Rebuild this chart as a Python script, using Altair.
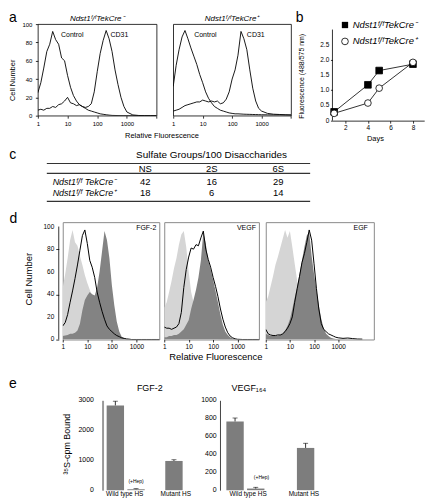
import altair as alt
import pandas as pd

FONT = "Liberation Sans"
BLACK = "black"
LIGHT = "#d5d5d5"
DARK = "#838383"
BAR = "#7d7d7d"

# ---------------------------------------------------------------- data
# histogram channels (relative fluorescence) shared by the flow panels
FL = [1, 1.26, 1.58, 2.0, 2.51, 3.16, 3.98, 5.01, 6.31, 7.94,
      10, 12.6, 15.8, 20.0, 25.1, 31.6, 39.8, 50.1, 63.1, 79.4,
      100, 126, 158, 200, 251, 316, 398, 501, 631, 794,
      1000, 1585, 2512, 3981, 6310, 10000]

# panel a : cell number per channel
A_TITLES = ["Ndst1ᶠ/ᶠTekCre⁻", "Ndst1ᶠ/ᶠTekCre⁺"]
A_NOTES = ["Control", "CD31"]
A_NEG_CONTROL = [25, 36, 52, 70, 78, 92, 83, 78, 63, 60,
                 44, 31, 22, 16, 12, 10, 8, 6, 5, 4,
                 3, 2, 1.5, 1, 0.6, 0.3, 0.2, 0.1, 0, 0,
                 0, 0, 0, 0, 0, 0]
A_NEG_CD31 = [6, 7, 6, 8, 8, 10, 9, 12, 13, 16,
              20, 14, 13, 11, 12, 10, 9, 10, 13, 26,
              48, 68, 82, 93, 84, 70, 50, 34, 20, 10,
              4, 0.8, 0.2, 0, 0, 0]
A_POS_CONTROL = [32, 55, 72, 86, 93, 84, 74, 65, 56, 45,
                 36, 26, 19, 14, 10, 8, 6, 5, 4, 3,
                 2.5, 2, 2, 1.8, 1.6, 1.5, 1.4, 1.3, 1.2, 1.1,
                 1, 0.9, 0.8, 0.8, 0.7, 0.6]
A_POS_CD31 = [5, 6, 7, 9, 11, 12, 13, 14, 15, 15,
              17, 16, 15, 16, 15, 16, 13, 14, 18, 26,
              40, 50, 66, 92, 84, 72, 50, 30, 16, 8,
              5, 2.5, 1.6, 1.3, 1, 0.8]

# panel b
B_SERIES = ["Ndst1ᶠ/ᶠTekCre⁻", "Ndst1ᶠ/ᶠTekCre⁺"]
B_DAYS = [1, 4, 5, 8]
B_NEG = [0.29, 1.18, 1.65, 1.86]
B_POS = [0.24, 0.58, 1.07, 1.92]
B_NEG_ERR = [0.0, 0.04, 0.0, 0.05]
B_POS_ERR = [0.0, 0.0, 0.0, 0.06]
B_YTICKS = [0, 0.5, 1, 1.5, 2, 2.5]

# panel c
C_TITLE = "Sulfate Groups/100 Disaccharides"
C_COLS = ["NS", "2S", "6S"]
C_ROWS = ["Ndst1ᶠ/ᶠ TekCre⁻", "Ndst1ᶠ/ᶠ TekCre⁺"]
C_NEG = [42, 16, 29]
C_POS = [18, 6, 14]

# panel d
D_NAMES = ["FGF-2", "VEGF", "EGF"]
D_YTICKS = [0, 20, 40, 60, 80, 100]
D_FGF_CTRL = [46, 58, 72, 88, 97, 86, 83, 74, 66, 57,
              50, 44, 38, 28, 19, 12, 7, 4, 2.5, 1.5,
              1, 0.5, 0, 0, 0, 0, 0, 0, 0, 0,
              0, 0, 0, 0, 0, 0]
D_FGF_DARK = [3, 3.5, 4, 5, 5, 6, 8, 14, 26, 35,
              39, 42, 40, 39, 46, 60, 78, 96, 88, 72,
              48, 30, 16, 7, 2.5, 1, 0.5, 0, 0, 0,
              0, 0, 0, 0, 0, 0]
D_FGF_LINE = [12, 15, 22, 33, 43, 54, 66, 79, 92, 97,
              85, 70, 64, 55, 42, 33, 25, 18, 12, 9,
              7, 5, 3.5, 2.5, 1.5, 1, 0.5, 0.3, 0, 0,
              0, 0, 0, 0, 0, 0]
D_VEGF_CTRL = [28, 33, 42, 52, 63, 72, 84, 93, 96, 82,
               60, 42, 33, 30, 26, 20, 15, 10, 6, 4,
               2, 1, 0.5, 0, 0, 0, 0, 0, 0, 0,
               0, 0, 0, 0, 0, 0]
D_VEGF_DARK = [2, 2, 3, 3, 4, 4, 5, 7, 9, 13,
               17, 27, 35, 44, 55, 70, 95, 85, 70, 62,
               53, 43, 33, 22, 13, 7, 4, 2, 0.8, 0.3,
               0, 0, 0, 0, 0, 0]
D_VEGF_LINE = [11, 10, 10, 9, 10, 11, 14, 24, 46, 62,
               73, 81, 80, 84, 83, 90, 96, 80, 71, 64,
               55, 47, 38, 27, 18, 11, 6, 3, 1.5, 0.6,
               0.2, 0, 0, 0, 0, 0]
D_EGF_CTRL = [33, 38, 47, 56, 66, 73, 81, 89, 97, 90,
              96, 82, 67, 52, 39, 28, 19, 12, 7, 4,
              2.5, 1.5, 1, 0.5, 0, 0, 0, 0, 0, 0,
              0, 0, 0, 0, 0, 0]
D_EGF_DARK = [5, 4, 3, 3, 3, 3, 4, 5, 8, 12,
              18, 27, 37, 47, 58, 70, 82, 92, 95, 74,
              58, 44, 30, 18, 10, 5, 3, 1.5, 0.8, 0.5,
              0.3, 0, 0, 0, 0, 0]
D_EGF_LINE = [9, 5, 4, 3.5, 3.5, 4, 4, 5, 7, 10,
              14, 20, 33, 45, 56, 68, 76, 86, 97, 88,
              67, 45, 27, 14, 9, 7, 5, 4, 3, 2,
              1.5, 1, 1.3, 0.8, 0.4, 0.3]

# panel e
E_TITLES = ["FGF-2", "VEGF₁₆₄"]
E_GROUPS = ["Wild type HS", "Mutant HS"]
E_CONDS = ["−Hep", "+Hep"]
E_GROUP = ["Wild type HS", "Wild type HS", "Mutant HS"]
E_COND = ["−Hep", "+Hep", "−Hep"]
E_FGF = [2830, 30, 975]
E_FGF_ERR = [140, 20, 40]
E_FGF_YTICKS = [0, 1000, 2000, 3000]
E_VEGF = [765, 18, 470]
E_VEGF_ERR = [38, 14, 52]
E_VEGF_YTICKS = [0, 200, 400, 600, 800, 1000]


# ---------------------------------------------------------------- helpers
def one_row():
    return pd.DataFrame({"k": [0]})


def spacer(w, h=1):
    return alt.Chart(one_row()).mark_point(size=0, opacity=0).properties(width=w, height=h)


def letter(ch, x, y):
    return alt.Chart(one_row()).mark_text(
        align="left", baseline="alphabetic", fontSize=14, font=FONT, color=BLACK
    ).encode(x=alt.value(x), y=alt.value(y), text=alt.value(ch))


def extent(x, y1, y2):
    # invisible rule fixing the vertical extent of one figure row
    return alt.Chart(one_row()).mark_rule(color=BLACK, strokeWidth=0, strokeOpacity=0).encode(
        x=alt.value(x), y=alt.value(y1), y2=alt.value(y2))


def note(txt, x, y, size=7, align="left", style="normal"):
    return alt.Chart(one_row()).mark_text(
        align=align, baseline="middle", fontSize=size, font=FONT, color=BLACK, fontStyle=style
    ).encode(x=alt.value(x), y=alt.value(y), text=alt.value(txt))


def ytick_labels(values, scale, yaxis, dx, size, expr):
    # y tick labels placed through the y scale
    return alt.Chart(pd.DataFrame({"v": values})).transform_calculate(lab=expr).mark_text(
        align="right", baseline="middle", dx=dx, fontSize=size, font=FONT, color=BLACK
    ).encode(x=alt.value(0), y=alt.Y("v:Q", scale=scale, axis=yaxis), text="lab:N")


def axis(**kw):
    kw.setdefault("labelOverlap", False)
    kw.setdefault("labelFlush", False)
    return alt.Axis(**kw)


# ---------------------------------------------------------------- panel a
A_H = 92.0


def panel_a(control, cd31, title, width, note_x, first):
    df = pd.DataFrame({"fl": FL, "control": control, "cd31": cd31})
    lab = "datum.value > 5000 ? '' : format(datum.value, 'd')"
    if first:
        xaxis = axis(values=[1, 10, 100, 1000, 10000], labelExpr=lab, domain=False,
                     tickSize=2.5, labelFontSize=6, labelPadding=2,
                     title="Relative Fluorescence", titleFontSize=7.5,
                     titleX=124.2, titleY=19.9, titleBaseline="middle")
        yaxis = axis(values=[0, 20, 40, 60, 80, 100], domain=False, tickSize=2.5,
                     labelFontSize=6, labelPadding=3.5, title="Cell Number",
                     titleFontSize=7.5, titleX=-25, titleY=56, titleBaseline="middle")
    else:
        xaxis = axis(values=[1, 10, 100, 1000, 10000], labelExpr=lab, domain=False,
                     tickSize=2.5, labelFontSize=6, labelPadding=2, title=None)
        yaxis = None
    x = alt.X("fl:Q", scale=alt.Scale(type="log", domain=[1, 10000], nice=False), axis=xaxis)
    ys = alt.Scale(domain=[0, 100], nice=False)
    base = alt.Chart(df)
    l1 = base.mark_line(color=BLACK, strokeWidth=0.9, clip=True).encode(
        x=x, y=alt.Y("control:Q", scale=ys, axis=yaxis))
    l2 = base.mark_line(color=BLACK, strokeWidth=0.9, clip=True).encode(
        x=x, y=alt.Y("cd31:Q", scale=ys, axis=yaxis))
    layers = [l1, l2, note(A_NOTES[0], note_x[0], 10.6), note(A_NOTES[1], note_x[1], 10.6),
              note(title, width / 2, -5, size=8, align="center", style="italic")]
    if first:
        layers.append(letter("a", -29.1, -2.6))
        layers.append(extent(-27, -14, 120))
    return alt.layer(*layers).properties(
        width=width, height=A_H, view=alt.ViewBackground(stroke=BLACK, strokeWidth=0.8))


A1 = panel_a(A_NEG_CONTROL, A_NEG_CD31, A_TITLES[0], 119.3, [23.3, 73], True)
A2 = panel_a(A_POS_CONTROL, A_POS_CD31, A_TITLES[1], 118.4, [21.1, 74], False)

# ---------------------------------------------------------------- panel b
B_W, B_H = 92.2, 97.0
b_df = pd.DataFrame({
    "day": B_DAYS + B_DAYS,
    "val": B_NEG + B_POS,
    "err": B_NEG_ERR + B_POS_ERR,
    "series": [B_SERIES[0]] * len(B_DAYS) + [B_SERIES[1]] * len(B_DAYS),
})
bx = alt.X("day:Q", scale=alt.Scale(domain=[0.85, 9], nice=False),
           axis=axis(values=[2, 4, 6, 8], tickSize=2.5, labelFontSize=6.5, labelPadding=1.5,
                     title="Days", titleFontSize=7.5, titleX=42.7, titleY=18,
                     titleBaseline="middle"))
bys = alt.Scale(domain=[0, 3.18], nice=False)
b_yaxis = axis(values=B_YTICKS, labels=False, domain=False, tickSize=2,
               title="Fluorescence (488/575 nm)", titleFontSize=7,
               titleX=-31, titleY=52, titleBaseline="middle")
by = alt.Y("val:Q", scale=bys, axis=b_yaxis)
b_base = alt.Chart(b_df)
b_line = b_base.mark_line(color=BLACK, strokeWidth=0.8).encode(x=bx, y=by, detail="series:N")
b_err = b_base.transform_filter("datum.err > 0").transform_calculate(
    lo="datum.val - datum.err", hi="datum.val + datum.err"
).mark_rule(color=BLACK, strokeWidth=0.8).encode(
    x=bx, y=alt.Y("lo:Q", scale=bys, axis=b_yaxis), y2="hi:Q")
b_pts = b_base.mark_point(filled=True, size=45, stroke=BLACK, strokeWidth=0.8, opacity=1).encode(
    x=bx, y=by,
    shape=alt.Shape("series:N", scale=alt.Scale(domain=B_SERIES, range=["square", "circle"]), legend=None),
    fill=alt.Fill("series:N", scale=alt.Scale(domain=B_SERIES, range=[BLACK, "white"]), legend=None))
b_axis = alt.Chart(one_row()).mark_rule(color=BLACK, strokeWidth=0.8).encode(
    x=alt.value(0), y=alt.datum(0, scale=bys), y2=alt.datum(3.0))
b_ylab = ytick_labels(B_YTICKS, bys, b_yaxis, -3.2, 6.5,
                      "datum.v == 0 ? '0' : format(datum.v, '.1f')")
b_leg1 = alt.Chart(one_row()).mark_point(shape="square", filled=True, color=BLACK, size=40, opacity=1).encode(
    x=alt.value(12.6), y=alt.value(0.9))
b_leg2 = alt.Chart(one_row()).mark_point(shape="circle", filled=True, fill="white", stroke=BLACK,
                                         strokeWidth=0.8, size=45, opacity=1).encode(
    x=alt.value(12.6), y=alt.value(17.4))
B = alt.layer(
    b_axis, b_line, b_err, b_pts, b_ylab, b_leg1, b_leg2,
    note(B_SERIES[0], 20.4, 0.9, size=9.5, style="italic"),
    note(B_SERIES[1], 20.4, 17.4, size=9.5, style="italic"),
    letter("b", -36.8, -2.6),
).properties(width=B_W, height=B_H)

# ---------------------------------------------------------------- panel c
C_W, C_H = 264.6, 38.1
cx = alt.X("col:N", scale=alt.Scale(type="point", domain=["label"] + C_COLS, padding=0.48), axis=None)
cy = alt.Y("row:N", scale=alt.Scale(type="point", domain=C_ROWS, range=[18.7, 29.4], padding=0),
           axis=None)
cells = pd.DataFrame({
    "row": [C_ROWS[0]] * 3 + [C_ROWS[1]] * 3,
    "col": C_COLS + C_COLS,
    "v": C_NEG + C_POS,
})
c_hdr = alt.Chart(pd.DataFrame({"col": C_COLS})).mark_text(
    fontSize=9.5, baseline="middle", font=FONT, color=BLACK
).encode(x=cx, y=alt.value(5.6), text="col:N")
c_val = alt.Chart(cells).mark_text(fontSize=9.5, baseline="middle", font=FONT, color=BLACK).encode(
    x=cx, y=cy, text="v:Q")
c_lab = alt.Chart(pd.DataFrame({"row": C_ROWS, "col": ["label", "label"]})).mark_text(
    fontSize=9, baseline="middle", align="left", dx=-26.2, fontStyle="italic", font=FONT, color=BLACK
).encode(x=cx, y=cy, text="row:N")


def hrule(y):
    return alt.Chart(one_row()).mark_rule(color="#333333", strokeWidth=1.1).encode(
        x=alt.value(0), x2=alt.value(C_W), y=alt.value(y))


C = alt.layer(hrule(0), hrule(10), hrule(C_H), c_hdr, c_val, c_lab,
              note(C_TITLE, 165.5, -8.4, size=10, align="center"),
              letter("c", -37.8, -4.9), extent(-36, -18, 45)).properties(width=C_W, height=C_H)

# ---------------------------------------------------------------- panel d
D_H = 117.9
D_W = [97.0, 95.1, 108.6]
D_XMAX = [8500, 7500, 30000]
D_LABEL_DX = [3, 3, 6]


def panel_d(i, ctrl, dark, line):
    df = pd.DataFrame({"fl": FL, "ctrl": ctrl, "dark": dark, "line": line})
    first, mid = i == 0, i == 1
    xaxis = axis(values=[1, 10, 100, 1000], format="d", domain=False, tickSize=2.5,
                 labelFontSize=6.5, labelPadding=1.5,
                 title=("Relative Fluorescence" if mid else None), titleFontSize=9.5,
                 titleX=51.4, titleY=17.5, titleBaseline="middle")
    if first:
        yaxis = axis(values=D_YTICKS, labels=False, domain=False, offset=4, tickSize=3,
                     title="Cell Number", titleFontSize=9.5, titleX=-30.3, titleY=56.8,
                     titleBaseline="middle")
    else:
        yaxis = None
    x = alt.X("fl:Q", scale=alt.Scale(type="log", domain=[1, D_XMAX[i]], nice=False), axis=xaxis)
    ys = alt.Scale(domain=[0, 103.9], nice=False)
    base = alt.Chart(df)
    a1 = base.mark_area(color=LIGHT, clip=True).encode(x=x, y=alt.Y("ctrl:Q", scale=ys, axis=yaxis))
    a2 = base.mark_area(color=DARK, clip=True).encode(x=x, y=alt.Y("dark:Q", scale=ys, axis=yaxis))
    ln = base.mark_line(color=BLACK, strokeWidth=1, clip=True).encode(
        x=x, y=alt.Y("line:Q", scale=ys, axis=yaxis))
    layers = [a1, a2, ln, note(D_NAMES[i], D_W[i] - D_LABEL_DX[i], 5.8, size=7, align="right")]
    if first:
        layers.append(alt.Chart(one_row()).mark_rule(color=BLACK, strokeWidth=0.8).encode(
            x=alt.value(-4), y=alt.datum(0, scale=ys), y2=alt.datum(100)))
        layers.append(ytick_labels(D_YTICKS, ys, yaxis, -8.5, 6.5, "format(datum.v, 'd')"))
        layers.append(letter("d", -53.4, 1.2))
        layers.append(extent(-51, -12, 148))
    return alt.layer(*layers).properties(
        width=D_W[i], height=D_H, view=alt.ViewBackground(stroke="#8a8a8a", strokeWidth=1))


D1 = panel_d(0, D_FGF_CTRL, D_FGF_DARK, D_FGF_LINE)
D2 = panel_d(1, D_VEGF_CTRL, D_VEGF_DARK, D_VEGF_LINE)
D3 = panel_d(2, D_EGF_CTRL, D_EGF_DARK, D_EGF_LINE)

# ---------------------------------------------------------------- panel e
E_H = 90.3


def panel_e(values, errs, ymax, yvals, width, pads, subpads, first, wt_dx, mut_dx, hep_dx, hep_dy):
    df = pd.DataFrame({"group": E_GROUP, "cond": E_COND, "value": values, "err": errs})
    x = alt.X("group:N", scale=alt.Scale(domain=E_GROUPS, paddingInner=pads[0], paddingOuter=pads[1]),
              axis=None)
    xo = alt.XOffset("cond:N", scale=alt.Scale(domain=E_CONDS, paddingInner=subpads[0],
                                               paddingOuter=subpads[1]))
    ys = alt.Scale(domain=[0, ymax], nice=False)
    if first:
        yaxis = axis(values=yvals, labels=False, domainColor="#9a9a9a", domainWidth=2, ticks=False,
                     tickSize=0, title="³⁵S-cpm Bound", titleFontSize=9, titleX=-35.9,
                     titleY=43.6, titleBaseline="middle")
        lab_dx = -8.7
    else:
        yaxis = axis(values=yvals, labels=False, domainColor="#444444", domainWidth=1, ticks=False,
                     tickSize=0, title=None)
        lab_dx = -3.3
    base = alt.Chart(df).transform_calculate(hi="datum.value + datum.err")
    bars = base.mark_bar(color=BAR).encode(x=x, xOffset=xo, y=alt.Y("value:Q", scale=ys, axis=yaxis))
    err = base.mark_rule(color=BLACK, strokeWidth=0.8).encode(
        x=x, xOffset=xo, y=alt.Y("value:Q", scale=ys, axis=yaxis), y2="hi:Q")
    cap = base.mark_tick(color=BLACK, thickness=0.8, size=5, orient="horizontal").encode(
        x=x, xOffset=xo, y=alt.Y("hi:Q", scale=ys, axis=yaxis))
    hep = base.transform_filter(alt.datum.cond == E_CONDS[1]).transform_calculate(
        lab="'(' + datum.cond + ')'"
    ).mark_text(fontSize=5, baseline="middle", dx=hep_dx, dy=hep_dy, font=FONT, color=BLACK).encode(
        x=x, xOffset=xo, y=alt.Y("value:Q", scale=ys, axis=yaxis), text="lab:N")
    gdf = alt.Chart(pd.DataFrame({"group": E_GROUPS}))
    wt = gdf.transform_filter(alt.datum.group == E_GROUPS[0]).mark_text(
        fontSize=6.5, baseline="middle", dx=wt_dx, font=FONT, color=BLACK
    ).encode(x=x, y=alt.value(E_H + 3.9), text="group:N")
    mut = gdf.transform_filter(alt.datum.group == E_GROUPS[1]).mark_text(
        fontSize=6.5, baseline="middle", dx=mut_dx, font=FONT, color=BLACK
    ).encode(x=x, y=alt.value(E_H + 3.9), text="group:N")
    ylab = ytick_labels(yvals, ys, yaxis, lab_dx, 7, "format(datum.v, 'd')")
    layers = [bars, err, cap, hep, wt, mut, ylab]
    if first:
        layers.append(letter("e", -94.1, -12.5))
        layers.append(extent(-92, -29, 99))
        layers.append(note(E_TITLES[0], 47.5, -12.5, size=9, align="center"))
    else:
        layers.append(note(E_TITLES[1], 11.6, -12.5, size=9, align="left"))
    return alt.layer(*layers).properties(width=width, height=E_H)


EF = panel_e(E_FGF, E_FGF_ERR, 3000, E_FGF_YTICKS, 105.4, (0.294, 0.042), (0.16, 0.08),
             True, -1, -8.5, 0, -8.5)
EV = panel_e(E_VEGF, E_VEGF_ERR, 1000, E_VEGF_YTICKS, 115.4, (0.506, 0.067),
             (0.06, 0.03), False, 6, -8.8, 5.8, -12)

# ---------------------------------------------------------------- layout
def row(*items):
    return alt.hconcat(*items, spacing=0, bounds="flush")


chart = alt.vconcat(
    row(A1, spacer(15.5), A2, spacer(40.7), B),
    row(spacer(8.7), C),
    row(spacer(24.3), D1, spacer(4.8), D2, spacer(5.8), D3),
    row(spacer(65.0), EF, spacer(12.0), EV),
    spacing=0,
).properties(padding=0).configure_view(stroke="transparent").configure_axis(
    labelFont=FONT, titleFont=FONT, labelColor=BLACK, titleColor=BLACK, tickColor=BLACK,
    domainColor=BLACK, titleFontWeight="normal", grid=False, tickWidth=0.8, domainWidth=0.8,
).configure_text(font=FONT)

chart.save("out.html", embed_options={"renderer": "svg", "actions": False})
